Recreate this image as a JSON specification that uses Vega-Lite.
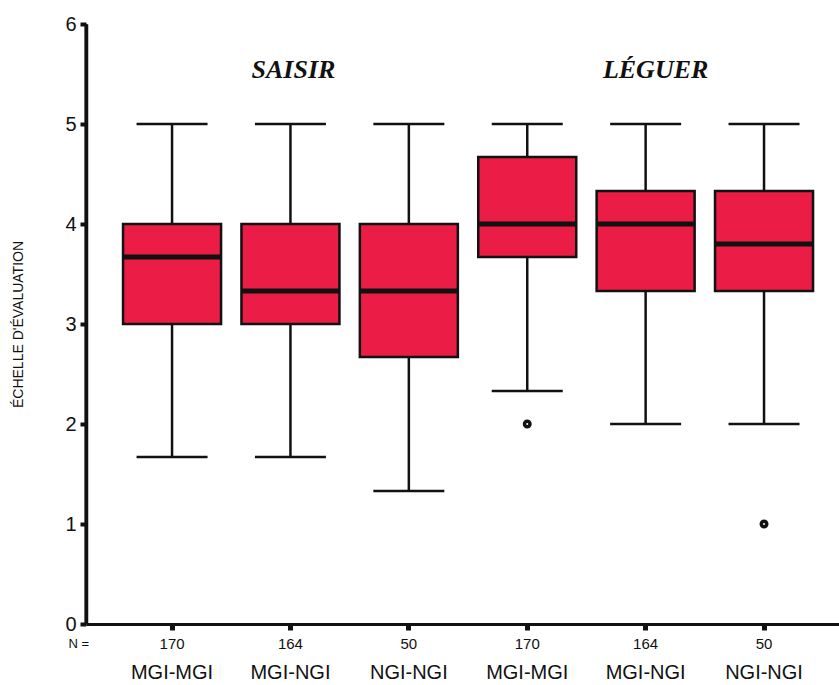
{
  "$schema": "https://vega.github.io/schema/vega-lite/v6.json",
  "autosize": "none",
  "width": 753,
  "height": 600,
  "padding": {"left": 86, "top": 24, "right": 0, "bottom": 61},
  "background": "white",
  "config": {
    "view": {"stroke": null},
    "font": "Liberation Sans",
    "axis": {"grid": false, "labelColor": "#111", "titleColor": "#111", "domainColor": "#111", "tickColor": "#111"}
  },
  "datasets": {
    "boxes": [
      {"box": "SAISIR|170|MGI-MGI", "lower": 1.67, "q1": 3.0, "median": 3.67, "q3": 4.0, "upper": 5.0},
      {"box": "SAISIR|164|MGI-NGI", "lower": 1.67, "q1": 3.0, "median": 3.33, "q3": 4.0, "upper": 5.0},
      {"box": "SAISIR|50|NGI-NGI", "lower": 1.33, "q1": 2.67, "median": 3.33, "q3": 4.0, "upper": 5.0},
      {"box": "LÉGUER|170|MGI-MGI", "lower": 2.33, "q1": 3.67, "median": 4.0, "q3": 4.67, "upper": 5.0},
      {"box": "LÉGUER|164|MGI-NGI", "lower": 2.0, "q1": 3.33, "median": 4.0, "q3": 4.33, "upper": 5.0},
      {"box": "LÉGUER|50|NGI-NGI", "lower": 2.0, "q1": 3.33, "median": 3.8, "q3": 4.33, "upper": 5.0}
    ],
    "outliers": [
      {"box": "LÉGUER|170|MGI-MGI", "value": 2.0},
      {"box": "LÉGUER|50|NGI-NGI", "value": 1.0}
    ]
  },
  "resolve": {"scale": {"x": "independent"}, "axis": {"x": "independent"}},
  "layer": [
    {
      "encoding": {
        "x": {
          "field": "box",
          "type": "nominal",
          "sort": null,
          "scale": {
            "type": "band",
            "domain": ["SAISIR|170|MGI-MGI", "SAISIR|164|MGI-NGI", "SAISIR|50|NGI-NGI", "LÉGUER|170|MGI-MGI", "LÉGUER|164|MGI-NGI", "LÉGUER|50|NGI-NGI"],
            "paddingInner": 0,
            "paddingOuter": 0.18,
            "align": 0.63
          },
          "axis": {
            "orient": "bottom",
            "labelExpr": "split(datum.value, '|')[1]",
            "labelAngle": 0,
            "labelFontSize": 15,
            "labelBaseline": "middle",
            "labelPadding": 13,
            "domainWidth": 3,
            "tickSize": 6,
            "tickWidth": 5,
            "title": "N =",
            "titleFontSize": 13,
            "titleFontWeight": "normal",
            "titleAnchor": "start",
            "titleAlign": "left",
            "titleBaseline": "middle",
            "titleX": -18,
            "titleY": 19
          }
        }
      },
      "layer": [
        {
          "data": {"name": "boxes"},
          "mark": {"type": "rule", "stroke": "#111", "strokeWidth": 2.5},
          "encoding": {
            "y": {
              "field": "lower",
              "type": "quantitative",
              "scale": {"domain": [0, 6], "nice": false, "zero": true},
              "axis": {
                "values": [0, 1, 2, 3, 4, 5, 6],
                "format": "d",
                "labelFontSize": 20,
                "labelPadding": 4,
                "domainWidth": 3.5,
                "tickSize": 6,
                "tickWidth": 4,
                "title": "ÉCHELLE D'ÉVALUATION",
                "titleFontSize": 14,
                "titleFontWeight": "normal",
                "titleAngle": -90,
                "titleAlign": "center",
                "titleBaseline": "middle",
                "titleX": -68,
                "titleY": 300
              }
            },
            "y2": {"field": "upper"}
          }
        },
        {
          "data": {"name": "boxes"},
          "mark": {"type": "tick", "color": "#111", "opacity": 1, "size": 71, "thickness": 2.5},
          "encoding": {"y": {"field": "upper", "type": "quantitative"}}
        },
        {
          "data": {"name": "boxes"},
          "mark": {"type": "tick", "color": "#111", "opacity": 1, "size": 71, "thickness": 2.5},
          "encoding": {"y": {"field": "lower", "type": "quantitative"}}
        },
        {
          "data": {"name": "boxes"},
          "mark": {"type": "bar", "size": 98, "fill": "#EB1C46", "opacity": 1, "stroke": "#111", "strokeWidth": 2.5},
          "encoding": {
            "y": {"field": "q1", "type": "quantitative"},
            "y2": {"field": "q3"}
          }
        },
        {
          "data": {"name": "boxes"},
          "mark": {"type": "tick", "color": "#111", "opacity": 1, "size": 98, "thickness": 5},
          "encoding": {"y": {"field": "median", "type": "quantitative"}}
        },
        {
          "data": {"name": "outliers"},
          "mark": {"type": "point", "shape": "circle", "filled": false, "opacity": 1, "stroke": "#111", "strokeWidth": 3.5, "size": 30},
          "encoding": {"y": {"field": "value", "type": "quantitative"}}
        },
        {
          "data": {"values": [{"edge": 6}]},
          "mark": {"type": "rule", "stroke": "#111", "strokeWidth": 3},
          "encoding": {"y": {"field": "edge", "type": "quantitative"}}
        },
        {
          "data": {"values": [{"box": "SAISIR|164|MGI-NGI", "label": "SAISIR"}]},
          "mark": {"type": "text", "font": "Liberation Serif", "fontStyle": "italic", "fontWeight": "bold", "fontSize": 26, "baseline": "alphabetic", "dx": 3, "color": "#111"},
          "encoding": {"text": {"field": "label"}, "y": {"datum": 5.46}}
        },
        {
          "data": {"values": [{"box": "LÉGUER|164|MGI-NGI", "label": "LÉGUER"}]},
          "mark": {"type": "text", "font": "Liberation Serif", "fontStyle": "italic", "fontWeight": "bold", "fontSize": 26, "baseline": "alphabetic", "dx": 10, "color": "#111"},
          "encoding": {"text": {"field": "label"}, "y": {"datum": 5.46}}
        }
      ]
    },
    {
      "data": {"name": "boxes"},
      "mark": {"type": "tick", "opacity": 0},
      "encoding": {
        "x": {
          "field": "box",
          "type": "nominal",
          "sort": null,
          "scale": {
            "type": "band",
            "domain": ["SAISIR|170|MGI-MGI", "SAISIR|164|MGI-NGI", "SAISIR|50|NGI-NGI", "LÉGUER|170|MGI-MGI", "LÉGUER|164|MGI-NGI", "LÉGUER|50|NGI-NGI"],
            "paddingInner": 0,
            "paddingOuter": 0.18,
            "align": 0.63
          },
          "axis": {
            "orient": "bottom",
            "labelExpr": "split(datum.value, '|')[2]",
            "labelAngle": 0,
            "labelFontSize": 20,
            "labelBaseline": "middle",
            "labelPadding": 48,
            "domain": false,
            "ticks": false,
            "tickSize": 0,
            "title": null
          }
        },
        "y": {"field": "median", "type": "quantitative"}
      }
    }
  ]
}
